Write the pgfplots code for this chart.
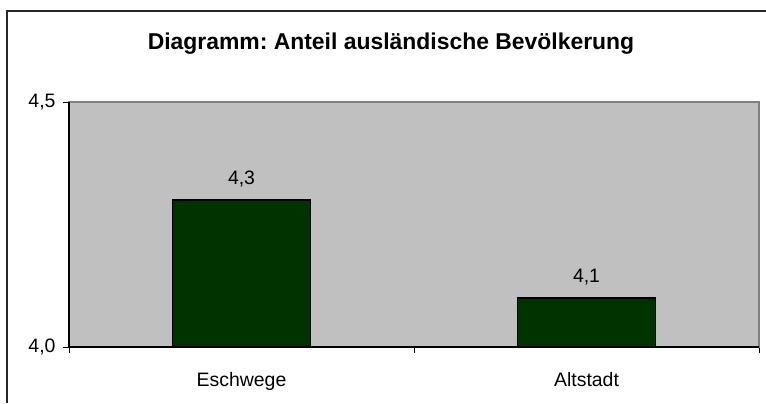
\documentclass[border=0pt]{standalone}
\usepackage{fontspec}
\setmainfont{Liberation Sans}
\usepackage{pgfplots}
\pgfplotsset{compat=1.18}
\definecolor{plotgray}{HTML}{C0C0C0}
\definecolor{framegray}{HTML}{808080}
\definecolor{bargreen}{HTML}{003300}
\newcommand{\ticksize}{\fontsize{19.5}{22}\selectfont}
\frenchspacing

\begin{document}
\begin{tikzpicture}[x=1bp,y=1bp]
\path[use as bounding box] (0,0) rectangle (766,-403);
% outer chart frame (only left and top edges are inside the crop)
\draw[line width=1.5bp, black!85] (6.75,-403) -- (6.75,-10.75) -- (766,-10.75);
\node[font=\fontsize{23}{26}\selectfont\bfseries] at (391,-44) {Diagramm: Anteil ausländische Bevölkerung};
\begin{axis}[
  at={(69bp,-347bp)}, anchor=south west,
  scale only axis, width=690bp, height=245bp,
  xmin=-0.5, xmax=1.5, ymin=4.0, ymax=4.5,
  axis background/.style={fill=plotgray},
  axis line style={draw=framegray, line width=1.2bp},
  xtick={0,1}, xticklabels={Eschwege, Altstadt},
  minor xtick={-0.5,0.5,1.5},
  ytick={4.0,4.5},
  tick align=outside,
  xtick style={draw=none},
  minor tick length=6bp,
  major tick length=6bp,
  minor x tick style={draw=black, line width=0.8bp},
  y tick style={draw=black, line width=0.8bp},
  xtick pos=bottom, ytick pos=left,
  tick label style={font=\ticksize},
  yticklabel style={xshift=-4bp, /pgf/number format/.cd, fixed, fixed zerofill, precision=1, use comma, assume math mode=true},
  xticklabel style={yshift=-16bp},
  ybar, bar width=138bp,
  nodes near coords,
  every node near coord/.append style={font=\ticksize, black, yshift=9bp,
    /pgf/number format/.cd, fixed, fixed zerofill, precision=1, use comma, assume math mode=true},
  clip=false,
]
\addplot[fill=bargreen, draw=black, line width=1.5bp] coordinates {(0,4.3) (1,4.1)};
\draw[black, line width=1.2bp] (rel axis cs:0,1) -- (rel axis cs:0,0) -- (rel axis cs:1,0);
\end{axis}
\end{tikzpicture}
\end{document}
